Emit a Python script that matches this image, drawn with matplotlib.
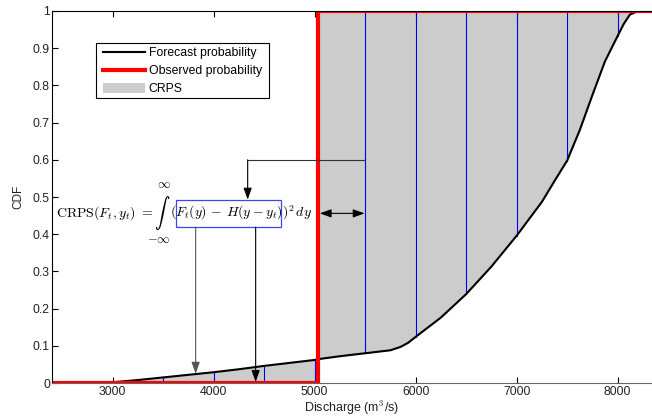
import numpy as np
import matplotlib.pyplot as plt
from matplotlib.patches import Rectangle

plt.rcParams['font.family'] = ['Liberation Sans', 'DejaVu Sans']
plt.rcParams['mathtext.fontset'] = 'cm'

# observed discharge (m3/s)
obs = 5030

# forecast CDF
q = np.array([2940, 3000, 3250, 3500, 3750, 4000, 4250, 4500, 4750, 5000, 5030,
              5250, 5500, 5750, 5850, 5925, 6000, 6250, 6500, 6750, 7000, 7250, 7375,
              7500, 7625, 7750, 7875, 8000, 8060, 8120, 8200, 8340])
cdf = np.array([0.0, 0.002, 0.008, 0.015, 0.022, 0.029, 0.037, 0.046, 0.054, 0.062, 0.064,
                0.072, 0.080, 0.088, 0.097, 0.108, 0.124, 0.176, 0.239, 0.313, 0.396, 0.487,
                0.543, 0.598, 0.68, 0.774, 0.865, 0.933, 0.965, 0.99, 1.0, 1.0])

left_marks = [3500, 4000, 4500, 5000]
right_marks = [5500, 6000, 6500, 7000, 7500, 8000]

x_ticks = [3000, 4000, 5000, 6000, 7000, 8000]
y_ticks = [0, 0.1, 0.2, 0.3, 0.4, 0.5, 0.6, 0.7, 0.8, 0.9, 1]
y_ticklabels = ['0', '0.1', '0.2', '0.3', '0.4', '0.5', '0.6', '0.7', '0.8', '0.9', '1']

fig = plt.figure(figsize=(6.52, 4.18), dpi=100)
ax = fig.add_axes([0.0798, 0.0837, 0.9202, 0.89])

grey = '#cccccc'
ax.fill_between(q, 0, cdf, where=q <= obs, color=grey, lw=0, interpolate=True)
ax.fill_between(q, cdf, 1, where=q >= obs, color=grey, lw=0, interpolate=True)

for xm in left_marks:
    ym = cdf[q == xm][0]
    ax.plot([xm, xm], [0, ym], color='blue', lw=0.8)
for xm in right_marks:
    ym = cdf[q == xm][0]
    ax.plot([xm, xm], [ym, 1], color='blue', lw=0.8)

ax.plot(q, cdf, color='black', lw=1.5, label='Forecast probability')
ax.plot([2400, obs, obs, 8340], [0, 0, 1, 1], color='red', lw=3,
        label='Observed probability')
ax.fill_between([], [], [], color=grey, lw=0, label='CRPS')

# formula pieces
ax.text(2443, 0.457, r'$\mathrm{CRPS}(F_t, y_t)\ =$', fontsize=10, va='center', ha='left')
ax.text(3495, 0.457, r'$\int$', fontsize=11, va='center', ha='center')
ax.text(3505, 0.532, r'$\infty$', fontsize=9, va='center', ha='center')
ax.text(3460, 0.385, r'$-\infty$', fontsize=9, va='center', ha='center')
ax.text(3564, 0.457, r'$(F_t(y)\,-\,H(y-y_t))^2\,dy$', fontsize=10, va='center', ha='left')
ax.add_patch(Rectangle((3630, 0.419), 1036, 0.073, fill=False, ec='#4040ff', lw=0.9))

arrow = dict(arrowstyle='-|>,head_length=0.7,head_width=0.25', color='black', lw=0.8,
             shrinkA=0, shrinkB=0)
ax.plot([5500, 4337], [0.6, 0.6], color='#333333', lw=0.8)
ax.annotate('', xy=(4337, 0.493), xytext=(4337, 0.6), arrowprops=arrow)
ax.annotate('', xy=(3822, 0.025), xytext=(3822, 0.419),
            arrowprops=dict(arrow, color='#555555'))
ax.annotate('', xy=(4416, 0.003), xytext=(4416, 0.419), arrowprops=arrow)
ax.annotate('', xy=(5495, 0.456), xytext=(5050, 0.456),
            arrowprops=dict(arrowstyle='<|-|>,head_length=0.7,head_width=0.25',
                            color='black', lw=0.8, shrinkA=0, shrinkB=0))

ax.set_xlim(2400, 8340)
ax.set_ylim(0, 1)
ax.set_xticks(x_ticks)
ax.set_yticks(y_ticks)
ax.set_yticklabels(y_ticklabels)
ax.tick_params(direction='in', top=True, right=False, labelsize=8.8,
               labelcolor='#222222', length=4, width=0.8, pad=2)
ax.tick_params(axis='y', pad=1.5)
ax.spines['right'].set_visible(False)
ax.spines['bottom'].set_color('#666666')
for s in ['left', 'top']:
    ax.spines[s].set_linewidth(0.8)

ax.set_xlabel('Discharge (m$^3$/s)', fontsize=9, color='#222222', labelpad=1)
ax.set_ylabel('CDF', fontsize=8.5, color='#222222', labelpad=6)

# legend with a MATLAB-like frame
ax.add_patch(Rectangle((0.0733, 0.766), 0.288, 0.148, transform=ax.transAxes,
                       fc='white', ec='black', lw=0.8, zorder=4))
ax.legend(loc='upper left', bbox_to_anchor=(0.085, 0.903), borderaxespad=0,
          borderpad=0, fontsize=8.8, frameon=False,
          handlelength=3.4, handleheight=0.9, labelspacing=0.45,
          handletextpad=0.35)

fig.savefig('out.png', dpi=100)
